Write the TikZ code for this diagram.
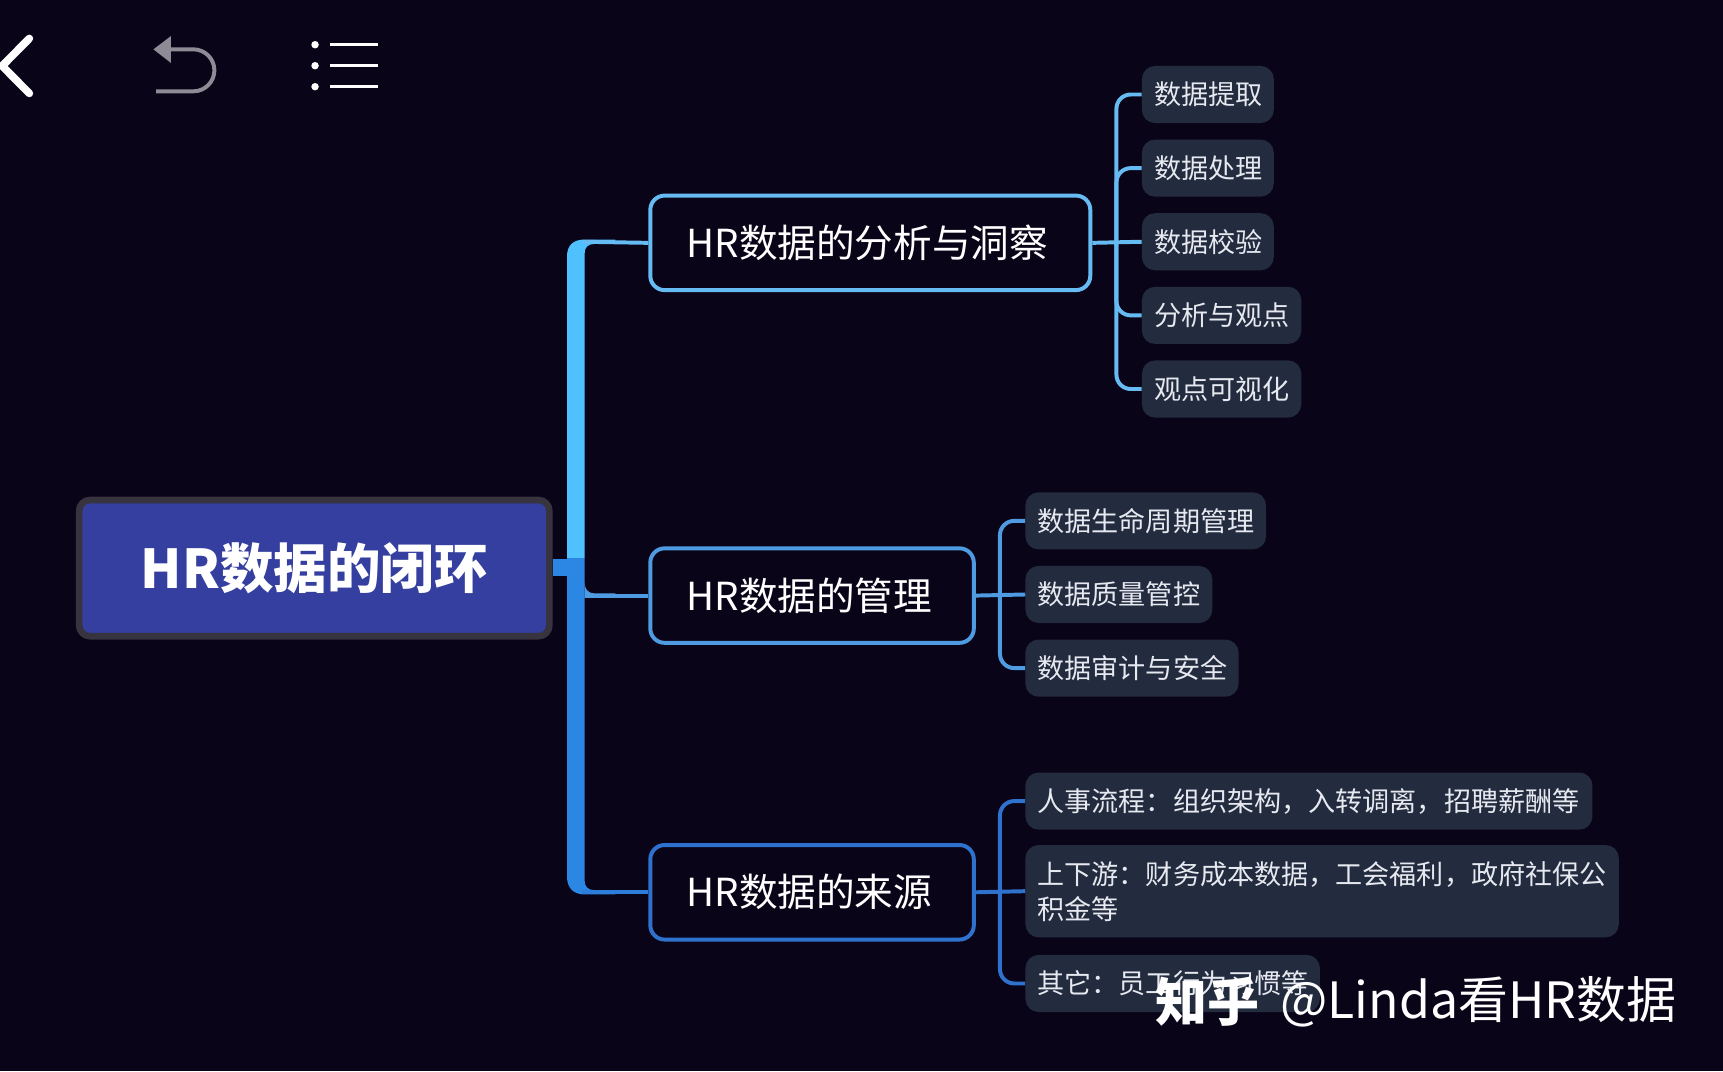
\documentclass[tikz,border=0pt]{standalone}
\usepackage{fontspec}
\setmainfont{Noto Sans CJK SC}
\definecolor{bgc}{HTML}{0A0418}
\definecolor{rootfill}{HTML}{353F9F}
\definecolor{rootline}{HTML}{37333F}
\definecolor{leaffill}{HTML}{232B3E}
\definecolor{leaftext}{HTML}{E6E9F0}
\definecolor{ca}{HTML}{66BCF2}
\definecolor{cb}{HTML}{4F9BE2}
\definecolor{cc}{HTML}{2F72CE}
\definecolor{tlight}{HTML}{4FC1FF}
\definecolor{tdark}{HTML}{2B87E3}
\definecolor{undoc}{HTML}{8E8A96}
\def\U{1.09885pt}
\tikzset{
  leafbox/.style={draw=none,fill=leaffill,rounded corners=12*\U,anchor=west,
    text=leaftext,align=left,inner xsep=11*\U,inner ysep=0pt,
    text width={(#1-22)*\U},minimum height=52*\U,
    font=\fontsize{27.1}{35.2}\selectfont},
  branchbox/.style={draw=#1,line width=3.6*\U,fill=bgc,rounded corners=13*\U,anchor=west,
    text=white,align=left,inner xsep=33*\U,inner ysep=0pt,minimum height=86*\U,
    font=\fontsize{38.6}{44}\selectfont},
  link/.style={draw=#1,line width=3.6*\U,rounded corners=13*\U},
  straight/.style={draw=#1,line width=3.6*\U},
}
\begin{document}
\begin{tikzpicture}[x=1.09885pt,y=-1.09885pt]
\fill[bgc] (0,0) rectangle (1568,974.66);
\useasboundingbox (0,0) rectangle (1568,974.66);

% top icons
\draw[white,line width=7*\U,line cap=round,line join=miter] (26.7,35) -- (2,60) -- (26.7,85);
\fill[undoc] (139.6,44.9) -- (155.6,32.8) -- (155.6,57.3) -- cycle;
\draw[undoc,line width=3.6*\U] (155,44.9) -- (176,44.9)
  .. controls (186.5,44.9) and (195.1,53.5) .. (195.1,64)
  .. controls (195.1,74.5) and (186.5,83.1) .. (176,83.1) -- (142,83.1);
\foreach \yy in {40.7,59.8,78.9}{
  \fill[white] (286.7,\yy) circle[radius=3.4];
  \draw[white,line width=2.7*\U] (300.4,\yy) -- (344,\yy);
}

% root
\node[draw=rootline,line width=6*\U,fill=rootfill,rounded corners=10*\U,
  minimum width=428*\U,minimum height=124*\U,text=white,
  font=\fontsize{53.5}{60}\selectfont\bfseries] (root) at (286,517) {\raisebox{-3pt}{HR数据的闭环}};

% branches
\node[branchbox=ca,text width=334.4*\U] (b1) at (590,221) {HR数据的分析与洞察};
\node[branchbox=cb,text width=228.4*\U] (b2) at (590,542) {HR数据的管理};
\node[branchbox=cc,text width=228.4*\U] (b3) at (590,812) {HR数据的来源};

% leaves
\node[leafbox=120] (a1) at (1039,86) {数据提取};
\node[leafbox=120] (a2) at (1039,153) {数据处理};
\node[leafbox=120] (a3) at (1039,220) {数据校验};
\node[leafbox=145] (a4) at (1039,287) {分析与观点};
\node[leafbox=145] (a5) at (1039,354) {观点可视化};
\node[leafbox=219] (m1) at (933,474) {数据生命周期管理};
\node[leafbox=170] (m2) at (933,541) {数据质量管控};
\node[leafbox=194] (m3) at (933,608) {数据审计与安全};
\node[leafbox=516] (s1) at (933,729) {人事流程：组织架构，入转调离，招聘薪酬等};
\node[leafbox=540,minimum height=84*\U] (s2) at (933,811) {上下游：财务成本数据，工会福利，政府社保公\\积金等};
\node[leafbox=268] (s3) at (933,895) {其它：员工行为习惯等};

% trunk
\fill[tdark] (root.east) ++(0,-8) rectangle (516,524);
\fill[tlight] (516,508) -- (516,233) .. controls (516,223) and (522,218) .. (532,218) -- (560,218) -- (560,222)
  -- (541,222) .. controls (535,222) and (532,225) .. (532,231) -- (532,508) -- cycle;
\fill[tdark] (516,508) -- (516,798) .. controls (516,808) and (522,814) .. (532,814) -- (560,814) -- (560,810)
  -- (541,810) .. controls (535,810) and (532,807) .. (532,801) -- (532,508) -- cycle;
\draw[straight=ca] (530,220) -- (b1.west);
\draw[straight=cc!45!tdark] (530,812) -- (b3.west);
\fill[cb] (532,530) .. controls (532,536) and (535,540) .. (541,540) -- (560,540) -- (560,544) -- (532,544) -- cycle;
\draw[straight=cb] (532,542) -- (b2.west);

% group A connectors
\coordinate (busa) at (1016,220);
\draw[straight=ca] (b1.east) -- (a3.west);
\draw[link=ca] (busa) |- (a1.west);
\draw[link=ca] (busa) |- (a2.west);
\draw[link=ca] (busa) |- (a4.west);
\draw[link=ca] (busa) |- (a5.west);
% group B connectors
\coordinate (busb) at (910,541);
\draw[straight=cb] (b2.east) -- (m2.west);
\draw[link=cb] (busb) |- (m1.west);
\draw[link=cb] (busb) |- (m3.west);
% group C connectors
\coordinate (busc) at (910,812);
\draw[straight=cc] (b3.east) -- (s2.west);
\draw[link=cc] (busc) |- (s1.west);
\draw[link=cc] (busc) |- (s3.west);

% watermark
\node[anchor=west,inner sep=0pt,text=white,font=\fontsize{52}{56}\selectfont\bfseries] (wm1) at (1051,912) {知乎};
\node[anchor=west,inner sep=0pt,text=white,font=\fontsize{50}{56}\selectfont] (wm2) at (1165,912) {@Linda看HR数据};
\end{tikzpicture}
\end{document}
